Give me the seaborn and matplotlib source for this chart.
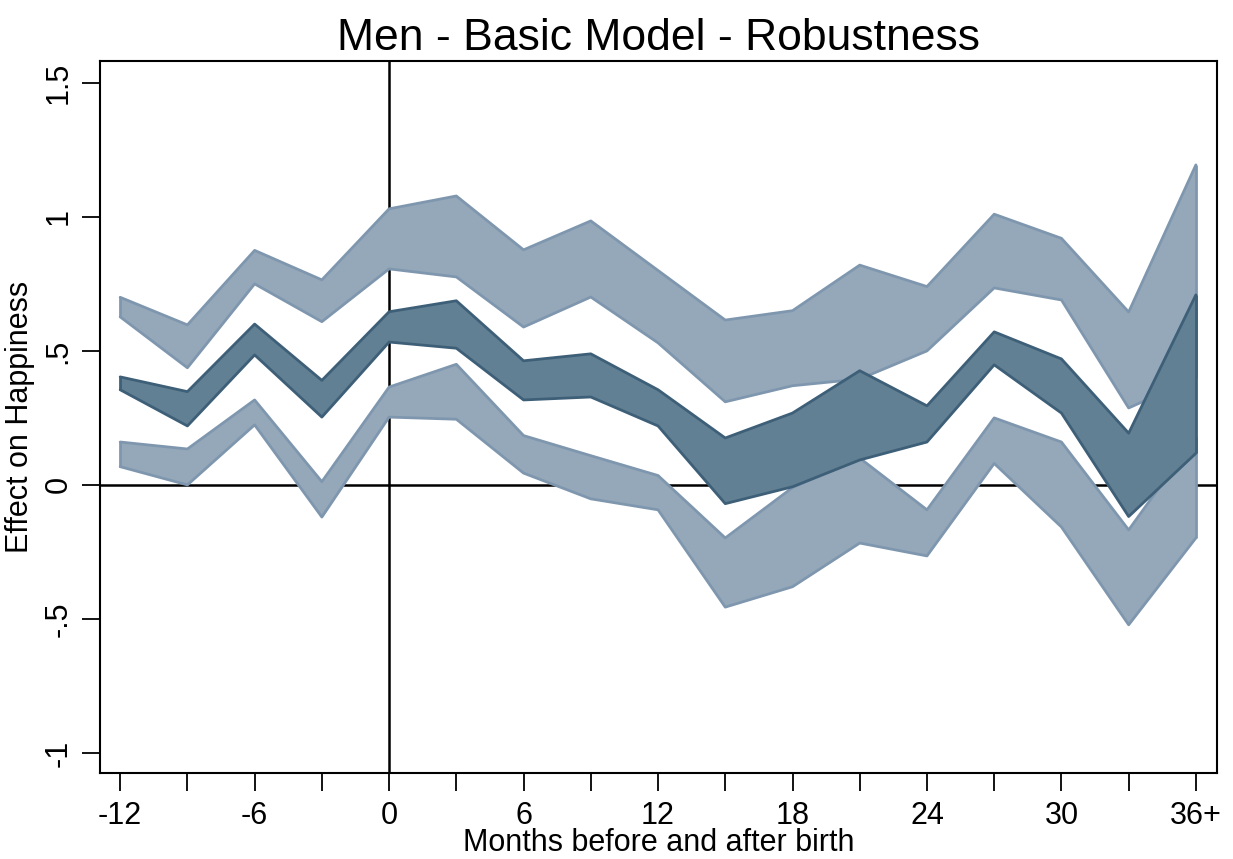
import numpy as np
import pandas as pd
import matplotlib
matplotlib.use("Agg")
import matplotlib.pyplot as plt
import seaborn as sns

# --- DATA ---
months = [-12, -9, -6, -3, 0, 3, 6, 9, 12, 15, 18, 21, 24, 27, 30, 33, 36]

# upper band (upper confidence bounds across specifications)
upper_hi = [0.70, 0.597, 0.875, 0.765, 1.03, 1.078, 0.877, 0.985, 0.80, 0.615, 0.65, 0.82, 0.74, 1.01, 0.92, 0.645, 1.194]
upper_lo = [0.627, 0.437, 0.75, 0.609, 0.806, 0.776, 0.589, 0.701, 0.53, 0.31, 0.37, 0.395, 0.50, 0.735, 0.69, 0.287, 0.40]

# middle band (point estimates across specifications)
mid_hi = [0.403, 0.348, 0.60, 0.39, 0.646, 0.687, 0.463, 0.489, 0.355, 0.175, 0.268, 0.426, 0.295, 0.571, 0.47, 0.193, 0.709]
mid_lo = [0.355, 0.22, 0.485, 0.253, 0.533, 0.51, 0.317, 0.328, 0.22, -0.07, -0.007, 0.093, 0.16, 0.448, 0.268, -0.118, 0.118]

# lower band (lower confidence bounds across specifications)
lower_hi = [0.16, 0.134, 0.317, 0.012, 0.365, 0.45, 0.184, 0.109, 0.035, -0.198, -0.01, 0.10, -0.093, 0.25, 0.16, -0.168, 0.18]
lower_lo = [0.068, 0.0, 0.224, -0.12, 0.253, 0.245, 0.044, -0.052, -0.093, -0.456, -0.38, -0.217, -0.265, 0.08, -0.157, -0.522, -0.198]

xticks = [-12, -6, 0, 6, 12, 18, 24, 30, 36]
xticklabels = ["-12", "-6", "0", "6", "12", "18", "24", "30", "36+"]
yticks = [-1, -0.5, 0, 0.5, 1, 1.5]
yticklabels = ["-1", "-.5", "0", ".5", "1", "1.5"]

LIGHT_FILL = "#95a8b9"
LIGHT_EDGE = "#7f97ae"
DARK_FILL = "#628093"
DARK_EDGE = "#3e5f78"

sns.set_theme(style="white")
plt.rcParams["font.family"] = ["Liberation Sans", "DejaVu Sans"]
plt.rcParams["text.color"] = "black"
plt.rcParams["axes.labelcolor"] = "black"
plt.rcParams["xtick.color"] = "black"
plt.rcParams["ytick.color"] = "black"

df = pd.DataFrame({
    "month": months,
    "upper_hi": upper_hi, "upper_lo": upper_lo,
    "mid_hi": mid_hi, "mid_lo": mid_lo,
    "lower_hi": lower_hi, "lower_lo": lower_lo,
})

fig = plt.figure(figsize=(12.33, 8.59), dpi=100)
ax = fig.add_axes([0.0811, 0.1001, 0.9059, 0.829])

# light bands first, dark band on top (each band above the previous one)
bands = [("upper_hi", "upper_lo", LIGHT_FILL, LIGHT_EDGE),
         ("lower_hi", "lower_lo", LIGHT_FILL, LIGHT_EDGE),
         ("mid_hi", "mid_lo", DARK_FILL, DARK_EDGE)]
for i, (hi, lo, fill, edge) in enumerate(bands):
    z = 2 + 2 * i
    ax.fill_between(df["month"], df[lo], df[hi], color=fill, lw=0, zorder=z)
    sns.lineplot(data=df, x="month", y=hi, color=edge, lw=2, ax=ax, zorder=z + 1)
    sns.lineplot(data=df, x="month", y=lo, color=edge, lw=2, ax=ax, zorder=z + 1)
    ax.vlines(df["month"].iloc[-1], df[lo].iloc[-1], df[hi].iloc[-1], color=edge, lw=2, zorder=z + 1)
    ax.vlines(df["month"].iloc[0], df[lo].iloc[0], df[hi].iloc[0], color=edge, lw=2, zorder=z + 1)

ax.axhline(0, color="black", lw=1.8, zorder=1)
ax.axvline(0, color="black", lw=1.8, zorder=1)

ax.set_xlim(-12.9, 36.94)
ax.set_ylim(-1.075, 1.582)
ax.set_xticks(xticks)
ax.set_xticklabels(xticklabels)
ax.set_xticks(months, minor=True)
ax.set_yticks(yticks)
ax.set_yticklabels(yticklabels, rotation=90, va="center")

ax.tick_params(axis="both", which="both", direction="out", length=13, width=1.3,
               color="black", labelsize=22, bottom=True, left=True)
ax.tick_params(axis="x", pad=7)
ax.tick_params(axis="y", pad=6)

for s in ax.spines.values():
    s.set_color("black")
    s.set_linewidth(1.5)

ax.set_xlabel("Months before and after birth", fontsize=22, labelpad=-2)
ax.set_ylabel("Effect on Happiness", fontsize=22, labelpad=6)
ax.set_title("Men - Basic Model - Robustness", fontsize=32, pad=8)
ax.grid(False)

fig.savefig("out.png", dpi=100)
